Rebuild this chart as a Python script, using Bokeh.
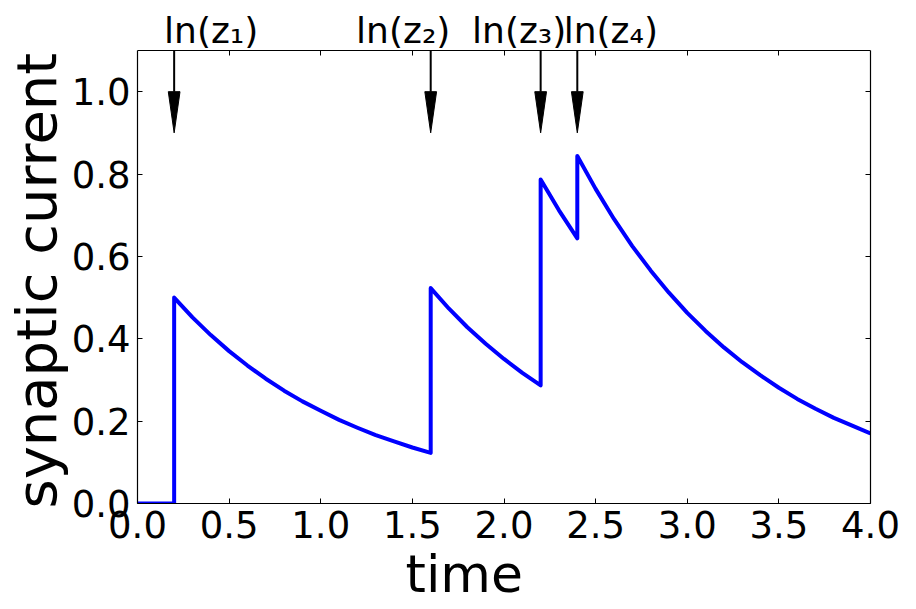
from bokeh.plotting import figure
from bokeh.models import (Range1d, LinearAxis, SingleIntervalTicker, NumeralTickFormatter,
                          CustomJSTickFormatter, Title)
from bokeh.core.properties import value
from bokeh.embed import file_html
from bokeh.resources import INLINE

# ---- data ----
time = [0.0, 0.2, 0.2, 0.3, 0.4, 0.5, 0.6, 0.7, 0.8, 0.9, 1.0, 1.1, 1.2, 1.3, 1.4, 1.5, 1.6,
        1.6, 1.7, 1.8, 1.9, 2.0, 2.1, 2.2,
        2.2, 2.3, 2.4,
        2.4, 2.5, 2.6, 2.7, 2.8, 2.9, 3.0, 3.1, 3.2, 3.3, 3.4, 3.5, 3.6, 3.7, 3.8, 3.9, 4.0]
current = [0.0, 0.0, 0.500, 0.452, 0.409, 0.370, 0.335, 0.303, 0.274, 0.248, 0.225, 0.203, 0.184,
           0.166, 0.151, 0.136, 0.123,
           0.523, 0.473, 0.428, 0.388, 0.351, 0.317, 0.287,
           0.787, 0.712, 0.644,
           0.844, 0.764, 0.691, 0.625, 0.566, 0.512, 0.463, 0.419, 0.379, 0.343, 0.311, 0.281,
           0.254, 0.230, 0.208, 0.189, 0.170]
event_times = [0.2, 1.6, 2.2, 2.4]
event_labels = ["ln(z\u2081)", "ln(z\u2082)", "ln(z\u2083)", "ln(z\u2084)"]
label_x = [0.145, 1.193, 1.826, 2.326]
x_min, x_max = 0.0, 4.0
y_min, y_max = 0.0, 1.1
x_ticks_interval = 0.5
y_ticks_interval = 0.2

# ---- style constants ----
FONT = "DejaVu Sans"
HEAD_BASE, ARROW_TIP = 1.0, 0.9
HEAD_HALF = 0.032
FRAME_W, AXES_H, HEADROOM = 733, 453, 50     # pixels
LEFT, RIGHT = 137, 30
px_per_unit = AXES_H / (y_max - y_min)
y_top = y_max + HEADROOM / px_per_unit          # extra room above the axes for labels
LABEL_Y = y_max + 20 / px_per_unit

p = figure(frame_width=FRAME_W, frame_height=AXES_H + HEADROOM, output_backend="svg",
           toolbar_location=None, x_range=Range1d(x_min, x_max), y_range=Range1d(y_min, y_top),
           min_border=0, min_border_left=LEFT, min_border_right=RIGHT)
p.grid.visible = False
p.outline_line_color = None

def style(ax):
    ax.major_tick_in = 5
    ax.major_tick_out = 0
    ax.minor_tick_line_color = None
    ax.axis_line_color = "black"
    ax.axis_line_width = 1.2
    ax.major_tick_line_color = "black"
    ax.major_label_text_font = FONT
    ax.major_label_text_font_size = "37px"
    ax.major_label_text_color = "black"

xa, ya = p.xaxis[0], p.yaxis[0]
for ax in (xa, ya):
    style(ax)
    ax.formatter = NumeralTickFormatter(format="0.0")
xa.ticker = SingleIntervalTicker(interval=x_ticks_interval)
ya.ticker = SingleIntervalTicker(interval=y_ticks_interval)
ya.bounds = (y_min, y_max)
xa.major_label_standoff = 3
ya.major_label_standoff = 3

# right edge with mirrored ticks
ra = LinearAxis(ticker=SingleIntervalTicker(interval=y_ticks_interval),
                formatter=CustomJSTickFormatter(code="return ''"), bounds=(y_min, y_max),
                major_label_standoff=0)
style(ra)
ra.major_label_text_font_size = "1px"
p.add_layout(ra, "right")

# top edge with mirrored ticks, drawn at y = y_max pointing down
ta = LinearAxis(ticker=SingleIntervalTicker(interval=x_ticks_interval),
                formatter=CustomJSTickFormatter(code="return ''"), fixed_location=y_max,
                major_label_standoff=0)
style(ta)
ta.major_tick_in = 0
ta.major_tick_out = 5
ta.major_label_text_font_size = "1px"
p.add_layout(ta, "below")

p.add_layout(Title(text="time", align="left", offset=268, text_font=FONT,
                   text_font_size="52px", text_font_style="normal", text_color="black",
                   standoff=3), "below")
p.add_layout(Title(text="synaptic current", align="left", offset=-5, text_font=FONT,
                   text_font_size="56px", text_font_style="normal", text_color="black",
                   text_line_height=1.0, standoff=0), "left")

# curve
p.line(time, current, line_color="#0000ff", line_width=4, line_join="round")

# arrows
p.segment(x0=event_times, y0=[y_max] * len(event_times),
          x1=event_times, y1=[HEAD_BASE] * len(event_times),
          line_color="black", line_width=2)
p.patches(xs=[[t - HEAD_HALF, t + HEAD_HALF, t] for t in event_times],
          ys=[[HEAD_BASE, HEAD_BASE, ARROW_TIP] for _ in event_times],
          fill_color="black", line_color="black", line_width=1)

p.text(x=label_x, y=[LABEL_Y] * len(label_x), text=event_labels, text_font=value(FONT),
       text_font_size="36px", text_color="black", text_align="left",
       text_baseline="alphabetic")

open("out.html", "w").write(file_html(p, INLINE))
